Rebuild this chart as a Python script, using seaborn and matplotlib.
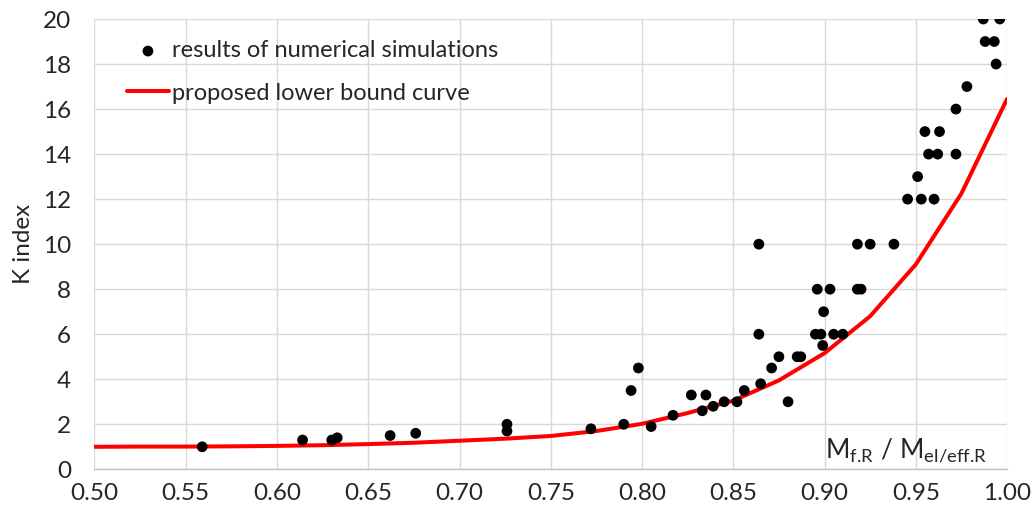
import matplotlib
matplotlib.use("Agg")
import matplotlib.pyplot as plt
import seaborn as sns
import pandas as pd

# Numerical simulation results: ratio M_f.R / M_el/eff.R and K index
sim_ratio = [0.559, 0.614, 0.630, 0.633, 0.662, 0.676, 0.726, 0.726, 0.772, 0.790,
             0.794, 0.798, 0.805, 0.817, 0.827, 0.833, 0.835, 0.839, 0.845, 0.852,
             0.856, 0.864, 0.864, 0.865, 0.871, 0.875, 0.880, 0.885, 0.887, 0.896,
             0.903, 0.918, 0.920, 0.8995, 0.895, 0.898, 0.905, 0.910, 0.899, 0.918,
             0.925, 0.938, 0.9455, 0.953, 0.960, 0.951, 0.957, 0.962, 0.972, 0.955,
             0.963, 0.972, 0.978, 0.994, 0.988, 0.993, 0.987, 0.996]
sim_k = [1.0, 1.3, 1.3, 1.4, 1.5, 1.6, 2.0, 1.7, 1.8, 2.0,
         3.5, 4.5, 1.9, 2.4, 3.3, 2.6, 3.3, 2.8, 3.0, 3.0,
         3.5, 10, 6, 3.8, 4.5, 5.0, 3.0, 5.0, 5.0, 8,
         8, 8, 8, 7, 6, 6, 6, 6, 5.5, 10,
         10, 10, 12, 12, 12, 13, 14, 14, 14, 15,
         15, 16, 17, 18, 19, 19, 20, 20]

# Proposed lower bound curve
curve_ratio = [0.50, 0.525, 0.55, 0.575, 0.60, 0.625, 0.65, 0.675, 0.70, 0.725, 0.75,
               0.775, 0.80, 0.825, 0.85, 0.875, 0.90, 0.925, 0.95, 0.975, 1.00]
curve_k = [1.00, 1.01, 1.01, 1.02, 1.04, 1.07, 1.12, 1.18, 1.27, 1.36, 1.48,
           1.70, 2.02, 2.50, 3.05, 3.95, 5.16, 6.80, 9.10, 12.25, 16.45]

x_ticks = [0.50, 0.55, 0.60, 0.65, 0.70, 0.75, 0.80, 0.85, 0.90, 0.95, 1.00]
y_ticks = [0, 2, 4, 6, 8, 10, 12, 14, 16, 18, 20]

sims = pd.DataFrame({"ratio": sim_ratio, "K": sim_k})
curve = pd.DataFrame({"ratio": curve_ratio, "K": curve_k})

sns.set_style("white")
plt.rcParams["font.family"] = ["Lato", "DejaVu Sans"]
plt.rcParams["mathtext.fontset"] = "custom"
plt.rcParams["mathtext.rm"] = "Lato"
plt.rcParams["mathtext.it"] = "Lato"

fig = plt.figure(figsize=(10.35, 5.18), dpi=100)
ax = fig.add_axes([0.0913, 0.094, 0.8817, 0.8693])

sns.lineplot(data=curve, x="ratio", y="K", ax=ax, color="#ff0000", linewidth=2.9,
             label="proposed lower bound curve", zorder=2)
sns.scatterplot(data=sims, x="ratio", y="K", ax=ax, color="black", s=60,
                edgecolor="none", label="results of numerical simulations", zorder=3)

ax.set_xlim(0.50, 1.00)
ax.set_ylim(0, 20)
ax.set_xticks(x_ticks)
ax.set_yticks(y_ticks)
ax.set_xticklabels([f"{v:.2f}" for v in x_ticks])
ax.set_yticklabels([str(v) for v in y_ticks])
ax.tick_params(axis="x", length=0, pad=10, labelsize=17.5)
ax.tick_params(axis="y", length=0, pad=17, labelsize=17.5)
ax.grid(True, color="#d9d9d9", linewidth=1.0, zorder=0)
ax.set_axisbelow(True)
for side in ["top", "right", "left"]:
    ax.spines[side].set_visible(False)
ax.spines["bottom"].set_color("#bfbfbf")
ax.spines["bottom"].set_linewidth(1.0)

ax.set_xlabel("")
ax.set_ylabel("K index", fontsize=17.5, labelpad=6)

ax.text(0.978, 0.012, r"$\mathregular{M_{\text{f.R}}\ /\ M_{\text{el/eff.R}}}$",
        transform=ax.transAxes, ha="right", va="bottom", fontsize=19)

handles, labels = ax.get_legend_handles_labels()
order = [labels.index("results of numerical simulations"), labels.index("proposed lower bound curve")]
ax.legend([handles[i] for i in order], [labels[i] for i in order],
          loc="upper left", bbox_to_anchor=(0.012, 1.0), frameon=False,
          fontsize=17, handlelength=1.8, handletextpad=0.1, labelspacing=0.9,
          markerscale=1.0)

fig.savefig("out.png", dpi=100)
